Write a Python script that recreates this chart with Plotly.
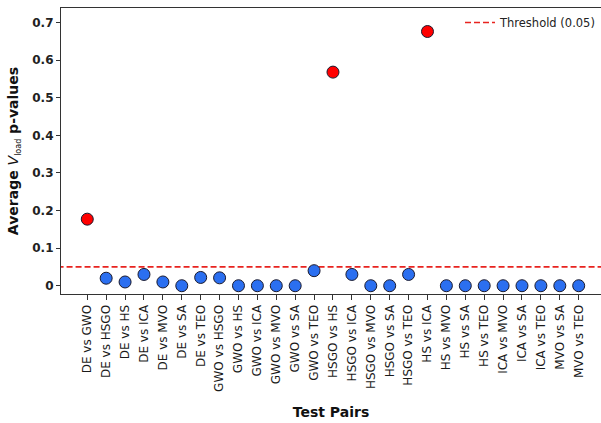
import plotly.graph_objects as go

# Pairwise comparisons between optimisers
pairs = [
    "DE vs GWO", "DE vs HSGO", "DE vs HS", "DE vs ICA", "DE vs MVO", "DE vs SA", "DE vs TEO",
    "GWO vs HSGO", "GWO vs HS", "GWO vs ICA", "GWO vs MVO", "GWO vs SA", "GWO vs TEO",
    "HSGO vs HS", "HSGO vs ICA", "HSGO vs MVO", "HSGO vs SA", "HSGO vs TEO",
    "HS vs ICA", "HS vs MVO", "HS vs SA", "HS vs TEO",
    "ICA vs MVO", "ICA vs SA", "ICA vs TEO",
    "MVO vs SA", "MVO vs TEO",
]

# Average p-values of V_load for each pair
p_values = [
    0.177, 0.020, 0.010, 0.030, 0.010, 0.0, 0.022,
    0.021, 0.0, 0.0, 0.0, 0.0, 0.040,
    0.568, 0.030, 0.0, 0.0, 0.030,
    0.676, 0.0, 0.0, 0.0,
    0.0, 0.0, 0.0,
    0.0, 0.0,
]

threshold = 0.05
y_ticks = [0, 0.1, 0.2, 0.3, 0.4, 0.5, 0.6, 0.7]

BLUE = "#2b6ff0"
RED = "#ff0000"
FONT = "DejaVu Sans"

colors = [RED if p > threshold else BLUE for p in p_values]
idx = list(range(len(pairs)))

fig = go.Figure()

# Significance threshold, stretched past both ends of the category axis
fig.add_trace(go.Scatter(
    x=[idx[0] - 3, idx[-1] + 3], y=[threshold, threshold],
    mode="lines",
    name=f"Threshold ({threshold})",
    line=dict(color="#e8231f", width=1.6, dash="6px,3px"),
    hoverinfo="skip",
))

fig.add_trace(go.Scatter(
    x=idx, y=p_values,
    mode="markers",
    showlegend=False,
    marker=dict(size=12, color=colors, line=dict(color="#1a1a2e", width=1)),
))

fig.update_layout(
    width=601, height=423,
    margin=dict(l=61, r=0, t=8, b=129),
    paper_bgcolor="white",
    plot_bgcolor="white",
    font=dict(family=FONT, color="#222222"),
    legend=dict(
        x=1, y=1, xanchor="right", yanchor="top",
        bgcolor="rgba(0,0,0,0)",
        font=dict(family=FONT, size=11.5, color="#222222"),
        itemwidth=30,
    ),
)

fig.update_xaxes(
    range=[-1.39, 27.18],
    tickmode="array",
    tickvals=idx,
    ticktext=pairs,
    tickangle=-90,
    tickfont=dict(family=FONT, size=12, color="#1a1a1a"),
    ticks="outside", ticklen=5, tickcolor="#333333",
    showline=True, linecolor="#333333", linewidth=1.2,
    mirror=True,
    showgrid=False, zeroline=False,
    title=dict(text="<b>Test Pairs</b>", font=dict(family=FONT, size=14, color="#111111"), standoff=16),
)

fig.update_yaxes(
    range=[-0.022, 0.7385],
    tickmode="array",
    tickvals=y_ticks,
    ticktext=[f"{v:g}" for v in y_ticks],
    tickfont=dict(family=FONT, size=12, color="#222222", weight="bold"),
    ticks="outside", ticklen=4, tickcolor="#333333",
    showline=True, linecolor="#333333", linewidth=1.2,
    showgrid=False, zeroline=False,
    title=dict(
        text=("<b>Average </b><i>V</i><sub><span style='font-size:8px'>load</span></sub>"
              "<b> p-values</b>"),
        font=dict(family=FONT, size=14, color="#111111"),
        standoff=10,
    ),
)

fig.write_html("out.html")
